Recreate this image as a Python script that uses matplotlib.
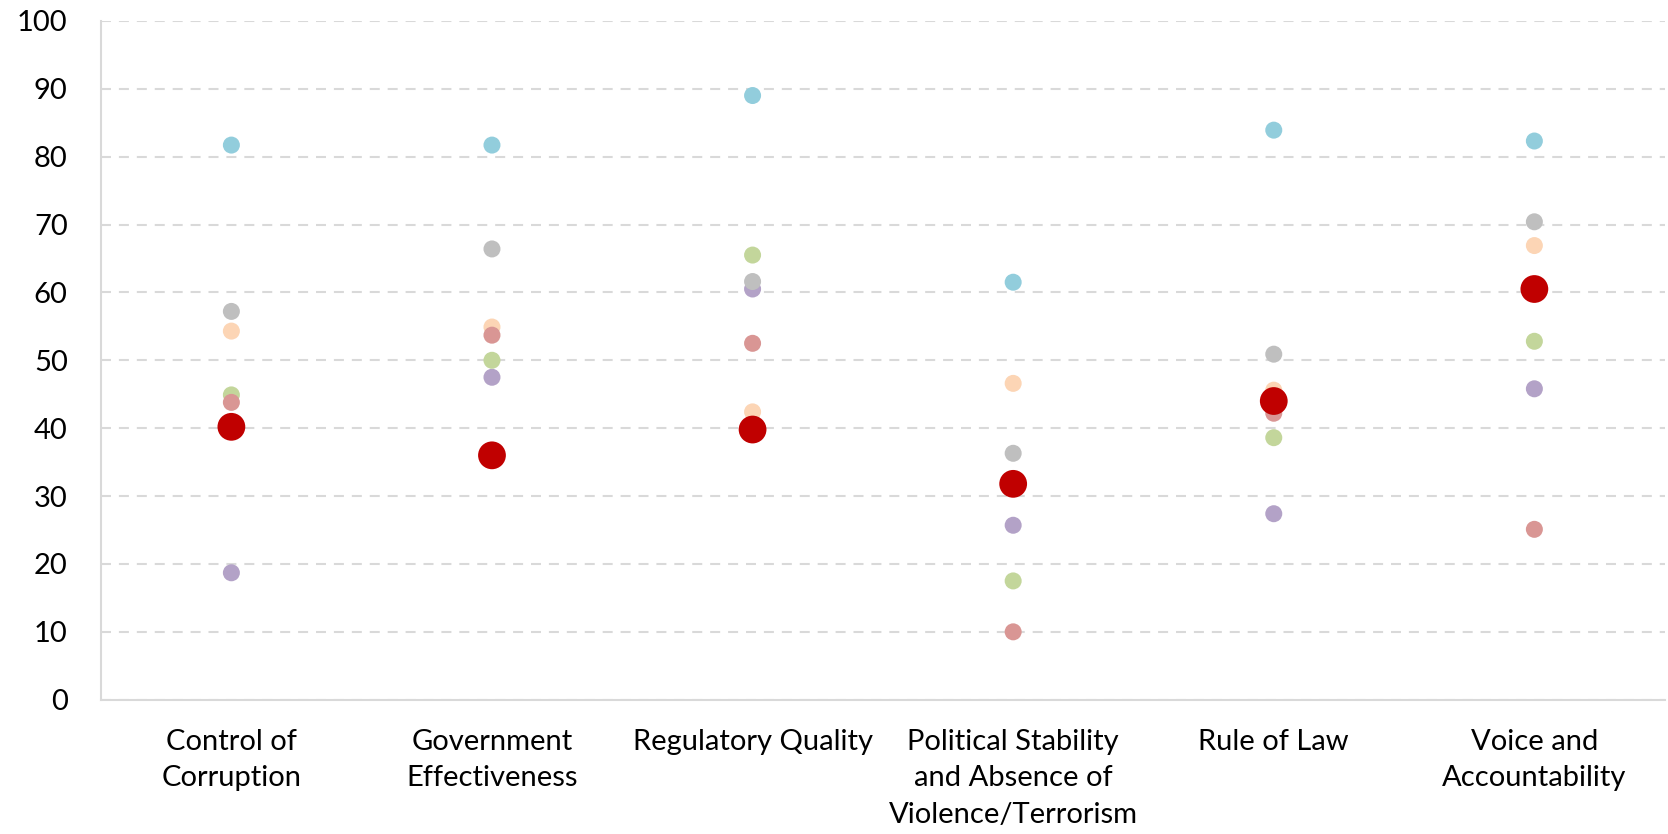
import matplotlib.pyplot as plt
import numpy as np

plt.rcParams['font.family'] = ['Lato', 'DejaVu Sans']

# categories on the x axis
categories = ['Control of\nCorruption', 'Government\nEffectiveness', 'Regulatory Quality',
              'Political Stability\nand Absence of\nViolence/Terrorism', 'Rule of Law',
              'Voice and\nAccountability']

# percentile values per series
purple = [18.7, 47.5, 60.5, 25.7, 27.4, 45.8]
green = [44.9, 50.0, 65.5, 17.5, 38.6, 52.8]
orange = [54.3, 54.9, 42.4, 46.6, 45.6, 66.9]
pink = [43.8, 53.7, 52.5, 10.0, 42.2, 25.1]
gray = [57.2, 66.4, 61.6, 36.3, 50.9, 70.4]
blue = [81.7, 81.7, 89.0, 61.5, 83.9, 82.3]
highlight = [40.2, 36.0, 39.8, 31.8, 44.0, 60.5]

series = [purple, green, orange, pink, gray, blue]
colors = ['#B3A2C7', '#C3D69B', '#FCD5B5', '#D99694', '#BFBFBF', '#92CDDC']

fig = plt.figure(figsize=(16.68, 8.34), dpi=100)
ax = fig.add_axes([0.0606, 0.161, 0.9374, 0.814])

x = np.arange(len(categories))
for vals, c in zip(series, colors):
    ax.scatter(x, vals, s=150, color=c, edgecolors='none', zorder=3)
ax.scatter(x, highlight, s=400, color='#C00000', edgecolors='none', zorder=4)

# 坐标轴设置
ax.set_xlim(-0.5, len(categories) - 0.5)
ax.set_ylim(0, 100)
ax.set_yticks(np.arange(0, 101, 10))
ax.set_xticks(x)
ax.set_xticklabels(categories, fontsize=21, linespacing=1.5, va='top')
ax.tick_params(axis='both', length=0, labelsize=21, colors='black')
ax.tick_params(axis='y', pad=24)
ax.tick_params(axis='x', pad=21)

for side in ['top', 'right']:
    ax.spines[side].set_visible(False)
for side in ['left', 'bottom']:
    ax.spines[side].set_color('#D9D9D9')
    ax.spines[side].set_linewidth(1.5)

ax.yaxis.grid(True, color='#D9D9D9', linewidth=1.5, linestyle=(0, (4.8, 3.8)))
ax.set_axisbelow(True)

plt.savefig('out.png', dpi=100)
